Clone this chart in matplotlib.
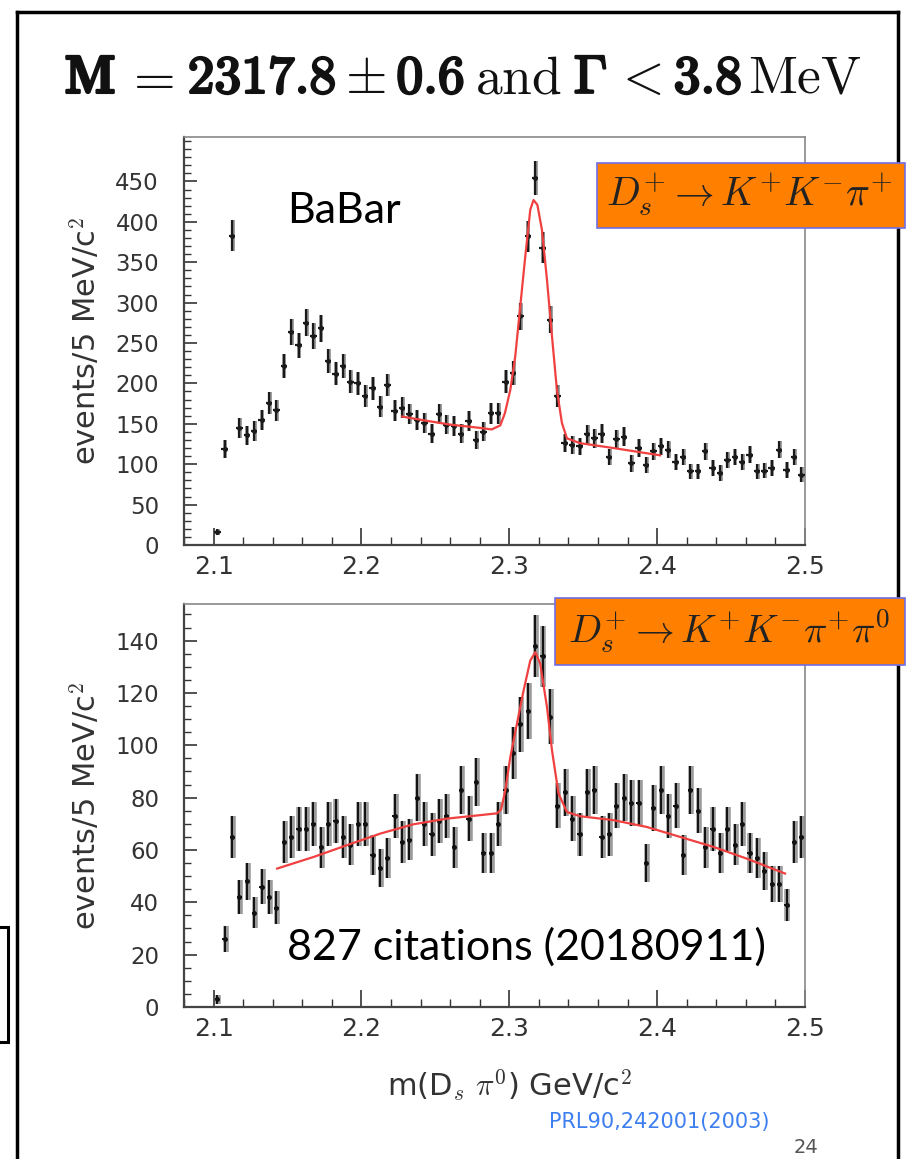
import numpy as np
import matplotlib
matplotlib.use("Agg")
import matplotlib.pyplot as plt
import matplotlib.patheffects as pe
from matplotlib.patches import Rectangle
from matplotlib.lines import Line2D
from matplotlib.ticker import MultipleLocator

plt.rcParams['mathtext.fontset'] = 'cm'
plt.rcParams['font.family'] = ['DejaVu Sans']

# 5 MeV bins starting at 2.100 GeV/c^2
bin_start = 2.100
bin_width = 0.005
n_bins = 80

# D_s+ -> K+ K- pi+  (events / 5 MeV)
counts_kkpi = [16, 119, 383, 145, 136, 141, 155, 176, 167, 221,
               264, 247, 275, 259, 268, 228, 212, 221, 202, 200,
               185, 194, 171, 198, 166, 170, 162, 155, 151, 138,
               162, 149, 147, 138, 153, 130, 140, 163, 163, 202,
               213, 283, 382, 454, 368, 279, 184, 126, 124, 122,
               137, 132, 138, 109, 131, 134, 101, 120, 99, 116,
               122, 118, 103, 109, 91, 91, 116, 95, 89, 105,
               109, 103, 112, 91, 92, 95, 118, 93, 109, 87]

# D_s+ -> K+ K- pi+ pi0  (events / 5 MeV)
counts_kkpipi0 = [3, 26, 65, 42, 48, 36, 46, 42, 38, 63,
                  65, 68, 68, 70, 61, 70, 71, 65, 62, 70,
                  70, 58, 53, 57, 73, 63, 64, 80, 70, 66,
                  71, 73, 61, 83, 72, 86, 59, 59, 70, 83,
                  97, 108, 113, 138, 134, 111, 77, 82, 72, 66,
                  82, 83, 65, 66, 77, 80, 78, 78, 55, 76,
                  83, 73, 77, 58, 83, 75, 61, 68, 59, 68,
                  62, 70, 59, 57, 52, 47, 47, 39, 63, 65]

# fit curves
fit1_x = [2.2275, 2.24, 2.26, 2.28, 2.288, 2.2939, 2.297, 2.3007, 2.304, 2.3074,
          2.3108, 2.3142, 2.3164, 2.319, 2.3221, 2.3255, 2.3289, 2.3322, 2.3356,
          2.339, 2.348, 2.3705, 2.402]
fit1_y = [159, 155, 149, 145, 143, 148, 163, 192, 233, 295,
          357, 415, 427, 421, 390, 328, 258, 192, 151,
          132, 126, 120, 111]

fit2_x = [2.143, 2.168, 2.19, 2.213, 2.235, 2.258, 2.28, 2.2917, 2.2945, 2.2973,
          2.3007, 2.3052, 2.3097, 2.3142, 2.3176, 2.3209, 2.3255, 2.3289, 2.3333,
          2.339, 2.348, 2.3705, 2.393, 2.4155, 2.438, 2.4606, 2.4865]
fit2_y = [52.9, 57.4, 61.8, 66.3, 69.8, 72.0, 73.3, 74.0, 75.5, 82.8,
          95.5, 108.3, 121, 132.4, 135.6, 131.2, 114.6, 98, 81.6,
          74.5, 72.9, 71.4, 68.8, 65, 61.2, 56.7, 51]

xticks = [2.1, 2.2, 2.3, 2.4, 2.5]

# title pieces: (text, bold)
title_parts = [('M', True), ('=', False), ('2317.8', True), (r'\pm', False),
               ('0.6', True), ('and', False), (r'\Gamma', True), ('<', False),
               ('3.8', True), ('MeV', False)]
title_gaps = [8, 14, 9, 11, 11, 12, 6, 12, 6]

W, H = 909, 1159
fig = plt.figure(figsize=(W / 100, H / 100), dpi=100)


def fx(x):
    return x / W


def fy(y):
    return 1 - y / H


mass = bin_start + bin_width * (np.arange(n_bins) + 0.5)


def style_axes(ax, ymax, yticks, yminor):
    ax.set_xlim(2.08, 2.5)
    ax.set_ylim(0, ymax)
    ax.set_xticks(xticks)
    ax.set_xticklabels([f"{t:.1f}" for t in xticks])
    ax.xaxis.set_minor_locator(MultipleLocator(0.02))
    ax.set_yticks(yticks)
    ax.yaxis.set_minor_locator(MultipleLocator(yminor))
    ax.tick_params(which='both', direction='in', top=False, right=False, colors='#333333')
    ax.tick_params(axis='x', which='major', length=12, width=1.2, labelsize=18, pad=7)
    ax.tick_params(axis='x', which='minor', length=6, width=1.0)
    ax.tick_params(axis='y', which='major', length=9, width=1.2, labelsize=16.5, pad=18)
    ax.tick_params(axis='y', which='minor', length=5, width=1.0)
    for s in ['left', 'bottom']:
        ax.spines[s].set_color('#444444')
        ax.spines[s].set_linewidth(1.6)
    for s in ['top', 'right']:
        ax.spines[s].set_color('#888888')
        ax.spines[s].set_linewidth(1.2)
    ax.set_ylabel(r'events/5 MeV/c$^2$', fontsize=22, color='#333333')
    ax.yaxis.set_label_coords(-0.132, 0.5)


# top panel
ax1 = fig.add_axes([fx(184), fy(545), fx(805) - fx(184), fy(137) - fy(545)])
c1 = np.array(counts_kkpi, dtype=float)
ax1.errorbar(mass + 0.0004, c1, yerr=np.sqrt(c1), fmt='none',
             ecolor='#8a8a8a', elinewidth=2.6, capsize=0, zorder=2)
ax1.errorbar(mass, c1, yerr=np.sqrt(c1), xerr=0.0022, fmt='o', ms=2.5,
             color='#1a1a1a', ecolor='#1a1a1a', elinewidth=1.6, capsize=0, zorder=3)
ax1.plot(fit1_x, fit1_y, color='#f04040', lw=1.6, zorder=4)
style_axes(ax1, 505, np.arange(0, 451, 50), 10)

# bottom panel
ax2 = fig.add_axes([fx(184), fy(1007), fx(805) - fx(184), fy(604) - fy(1007)])
c2 = np.array(counts_kkpipi0, dtype=float)
ax2.errorbar(mass + 0.0006, c2, yerr=np.sqrt(c2), fmt='none',
             ecolor='#9a9a9a', elinewidth=4, capsize=0, zorder=2)
ax2.errorbar(mass, c2, yerr=np.sqrt(c2), xerr=0.0015, fmt='o', ms=2.5,
             color='#111111', ecolor='#111111', elinewidth=1.4, capsize=0, zorder=3)
ax2.plot(fit2_x, fit2_y, color='#f04040', lw=1.6, zorder=4)
style_axes(ax2, 154, np.arange(0, 141, 20), 5)
ax2.set_xlabel(r'm(D$_s$ $\pi^0$) GeV/c$^2$', fontsize=22, color='#333333')
ax2.xaxis.set_label_coords(0.525, -0.15)

# title, laid out piece by piece so the bold parts can be thickened
renderer = fig.canvas.get_renderer()
pieces = []
x = 0.0
for i, (txt, bold) in enumerate(title_parts):
    if txt.isalpha() and len(txt) > 1:
        s = r'$\mathrm{' + txt + '}$'
    elif bold:
        s = r'$\mathbf{' + txt + '}$'
    else:
        s = '$' + txt + '$'
    t = fig.text(fx(x), fy(93), s, fontsize=38.5, ha='left', va='baseline', color='#111111')
    if bold:
        t.set_path_effects([pe.withStroke(linewidth=1.8, foreground='#111111')])
    w = t.get_window_extent(renderer).width
    pieces.append((t, x))
    x += w
    if i < len(title_gaps):
        x += title_gaps[i]
shift = 463 - x / 2
for t, x0 in pieces:
    t.set_x(fx(x0 + shift))

# decay mode boxes
fig.add_artist(Rectangle((fx(597), fy(228)), fx(905) - fx(597), fy(163) - fy(228),
                         transform=fig.transFigure, facecolor='#ff8000',
                         edgecolor='#6f6fe6', lw=1.2, zorder=5))
fig.text(fx(606), fy(195), r'$D_s^{+} \rightarrow K^{+}K^{-}\pi^{+}$', fontsize=28.5,
         ha='left', va='center', color='#222222', zorder=6)
fig.add_artist(Rectangle((fx(555), fy(665)), fx(905) - fx(555), fy(598) - fy(665),
                         transform=fig.transFigure, facecolor='#ff8000',
                         edgecolor='#6f6fe6', lw=1.2, zorder=5))
fig.text(fx(568), fy(631), r'$D_s^{+} \rightarrow K^{+}K^{-}\pi^{+}\pi^{0}$', fontsize=28,
         ha='left', va='center', color='#222222', zorder=6)

# annotations
fig.text(fx(287), fy(223), 'BaBar', fontsize=31, family='Lato', ha='left', va='baseline')
fig.text(fx(287), fy(960), '827 citations (20180911)', fontsize=31, family='Lato',
         ha='left', va='baseline')
fig.text(fx(659), fy(1122), 'PRL90,242001(2003)', fontsize=15, color='#3d7ff0',
         ha='center', va='center')
fig.text(fx(806), fy(1157), '24', fontsize=14, color='#555555', ha='center', va='bottom')

# slide frame
fig.add_artist(Line2D([fx(17), fx(17)], [0, fy(12)], transform=fig.transFigure, color='black', lw=2.5))
fig.add_artist(Line2D([fx(17), fx(898)], [fy(12), fy(12)], transform=fig.transFigure, color='black', lw=2.5))
fig.add_artist(Line2D([fx(898), fx(898)], [0, fy(12)], transform=fig.transFigure, color='black', lw=2.5))
fig.add_artist(Rectangle((fx(-5), fy(1042)), fx(8) - fx(-5), fy(927) - fy(1042),
                         transform=fig.transFigure, facecolor='none', edgecolor='black', lw=2.2))

fig.savefig('out.png', dpi=100)
